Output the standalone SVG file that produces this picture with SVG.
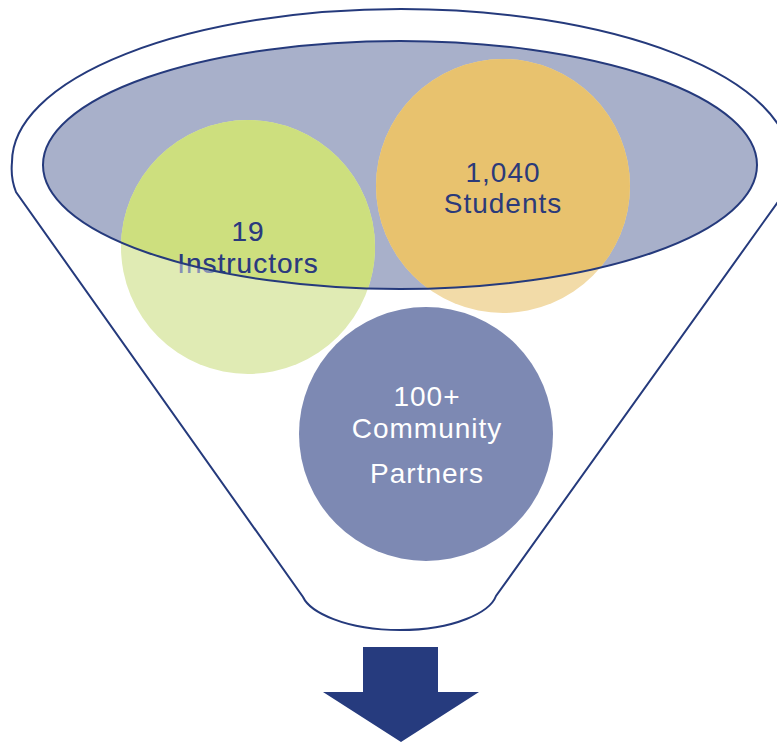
<svg xmlns="http://www.w3.org/2000/svg" width="777" height="742" viewBox="0 0 777 742">
<defs>
<style>
.line{fill:none;stroke:#253A7C;stroke-width:2}
.lbl{font-family:"Liberation Sans",Arial,sans-serif;font-size:28px;letter-spacing:1px;text-anchor:middle}
.dark{fill:#2B3A7A}
.faint{fill:#8590B5}
</style>
<clipPath id="inner"><ellipse cx="400" cy="165" rx="357" ry="124"/></clipPath>
</defs>
<rect width="777" height="742" fill="#FFFFFF"/>
<g id="funnel">
<path class="line" d="M16,192 C12,182 11,172 12,162 A389 153 0 0 1 790 162 C790,172 789,182 785,192 L496,596 C490,612 455,630 400,630 C345,630 310,612 303,597 Z"/>
</g>
<g id="top-ellipse">
<ellipse cx="400" cy="165" rx="357" ry="124" fill="#A8B0CA"/>
</g>
<g id="instructors">
<circle cx="248" cy="247" r="127" fill="#E0EBB4"/>
<circle cx="248" cy="247" r="127" fill="#CDDF7E" clip-path="url(#inner)"/>
<text class="lbl faint" x="248" y="241">19</text>
<text class="lbl faint" x="248" y="273">Instructors</text>
<g clip-path="url(#inner)">
<text class="lbl dark" x="248" y="241">19</text>
<text class="lbl dark" x="248" y="273">Instructors</text>
</g>
</g>
<g id="students">
<circle cx="503" cy="186" r="127" fill="#F2DBA8"/>
<circle cx="503" cy="186" r="127" fill="#E8C26E" clip-path="url(#inner)"/>
<text class="lbl dark" x="503" y="182">1,040</text>
<text class="lbl dark" x="503" y="213">Students</text>
</g>
<g id="ellipse-border">
<ellipse class="line" cx="400" cy="165" rx="357" ry="124"/>
</g>
<g id="partners">
<circle cx="426" cy="434" r="127" fill="#7D89B3"/>
<text class="lbl" fill="#FFFFFF" x="427" y="406">100+</text>
<text class="lbl" fill="#FFFFFF" x="427" y="438">Community</text>
<text class="lbl" fill="#FFFFFF" x="427" y="483">Partners</text>
</g>
<g id="connectors">
<path d="M363,647 L438,647 L438,692 L479,692 L401,742 L323,692 L363,692 Z" fill="#263B7E"/>
</g>
</svg>
